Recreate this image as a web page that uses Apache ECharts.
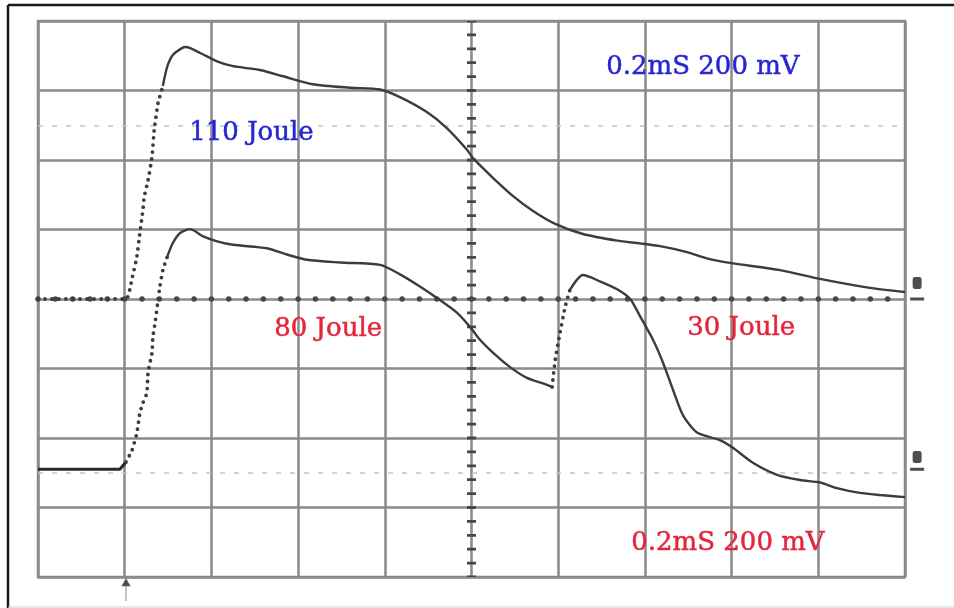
<!DOCTYPE html>
<html>
<head>
<meta charset="utf-8">
<title>Oscilloscope traces</title>
<script src="https://cdn.jsdelivr.net/npm/echarts@6/dist/echarts.min.js"></script>
<style>
  html, body { margin: 0; padding: 0; background: #ffffff; }
  #chart { width: 954px; height: 608px; }
</style>
</head>
<body>
<div id="chart"></div>
<script>
// Screen graticule: 0.2 ms/div horizontally, 200 mV/div vertically, centred at 0.
const timeRange = [-1.0, 1.0];      // ms
const voltRange = [-0.8, 0.8];      // V
const timePerDiv = 0.2;
const voltPerDiv = 0.2;

// Channel 1 (110 Joule discharge): [time ms, volts]
const ch1Rise = [
  [-1.0, 0], [-0.797, 0], [-0.783, 0.060], [-0.772, 0.121], [-0.765, 0.190],
  [-0.758, 0.256], [-0.755, 0.294], [-0.746, 0.342], [-0.737, 0.409],
  [-0.732, 0.486], [-0.723, 0.564], [-0.712, 0.613]
];
const ch1Decay = [
  [-0.712, 0.613], [-0.702, 0.668], [-0.689, 0.702], [-0.668, 0.722], [-0.659, 0.725],
  [-0.626, 0.708], [-0.587, 0.684], [-0.550, 0.670], [-0.488, 0.659],
  [-0.435, 0.641], [-0.366, 0.618], [-0.280, 0.608], [-0.211, 0.603],
  [-0.165, 0.581], [-0.103, 0.538], [-0.057, 0.492], [-0.010, 0.429],
  [0.003, 0.406], [0.050, 0.348], [0.096, 0.296], [0.142, 0.253],
  [0.193, 0.216], [0.257, 0.187], [0.336, 0.168], [0.389, 0.160],
  [0.435, 0.152], [0.497, 0.135], [0.543, 0.117], [0.596, 0.104],
  [0.712, 0.083], [0.804, 0.058], [0.919, 0.032], [1.0, 0.020]
];

// Channel 2 (80 Joule followed by 30 Joule discharge): [time ms, volts]
const ch2Base = [[-1.0, -0.490], [-0.811, -0.490], [-0.797, -0.469]];
const ch2Rise = [
  [-0.797, -0.469], [-0.783, -0.435], [-0.772, -0.386], [-0.765, -0.328],
  [-0.758, -0.299], [-0.749, -0.271], [-0.746, -0.210], [-0.737, -0.155],
  [-0.735, -0.109], [-0.730, -0.069], [-0.723, -0.003], [-0.719, 0.035],
  [-0.712, 0.083], [-0.702, 0.121]
];
const ch2First = [
  [-0.702, 0.121], [-0.689, 0.161], [-0.672, 0.190], [-0.649, 0.201],
  [-0.619, 0.180], [-0.587, 0.166], [-0.550, 0.156], [-0.472, 0.146],
  [-0.426, 0.128], [-0.380, 0.113], [-0.303, 0.105], [-0.211, 0.098],
  [-0.165, 0.071], [-0.119, 0.036], [-0.073, -0.003], [-0.033, -0.040],
  [-0.003, -0.081], [0.020, -0.118], [0.050, -0.155], [0.089, -0.196],
  [0.128, -0.227], [0.174, -0.247], [0.186, -0.253]
];
const ch2Jump = [
  [0.186, -0.253], [0.193, -0.176], [0.204, -0.098], [0.216, -0.023], [0.227, 0.026]
];
const ch2Second = [
  [0.227, 0.026], [0.243, 0.055], [0.257, 0.069], [0.296, 0.051],
  [0.336, 0.028], [0.366, 0.000], [0.389, -0.050], [0.419, -0.118],
  [0.442, -0.184], [0.465, -0.262], [0.488, -0.335], [0.520, -0.384],
  [0.573, -0.406], [0.603, -0.428], [0.650, -0.472], [0.705, -0.506],
  [0.758, -0.521], [0.804, -0.528], [0.843, -0.544], [0.896, -0.558],
  [0.942, -0.564], [1.0, -0.570]
];

// Reference half-division levels and channel / trigger markers
const refLevels = [0.5, -0.5];
const channelMarks = [[1.028, 0.046], [1.028, -0.455]];
const groundMarks = [[1.028, 0.0], [1.028, -0.49]];
const triggerMark = [[-0.797, -0.815]];

// Annotation texts
const labelScaleTop = '0.2mS 200 mV';
const labelScaleBottom = '0.2mS 200 mV';
const label110 = '110 Joule';
const label80 = '80 Joule';
const label30 = '30 Joule';

const TRACE = '#3c3c3c';
const GRID = '#8a8a8a';
const BLUE = '#2626d2';
const RED = '#e3263a';
const FONT = '26px "DejaVu Serif", "Liberation Serif", serif';

const chart = echarts.init(document.getElementById('chart'), null, { renderer: 'canvas' });

function solid(name, data) {
  return {
    name, type: 'line', data, showSymbol: false, smooth: 0.25,
    lineStyle: { color: TRACE, width: 2.4 }, z: 5, silent: true
  };
}
function dotted(name, data) {
  return {
    name, type: 'line', data, showSymbol: false, smooth: 0.15,
    lineStyle: { color: TRACE, width: 3.8, type: [0, 7], cap: 'round' }, z: 5, silent: true
  };
}
function note(text, left, top, color) {
  return {
    type: 'text', left, top, z: 10, silent: true,
    style: { text, fill: color, font: FONT, stroke: color, lineWidth: 0.5 }
  };
}

const option = {
  animation: false,
  backgroundColor: '#ffffff',
  grid: {
    left: 38, top: 21, right: 49, bottom: 31,
    show: true, borderColor: GRID, borderWidth: 2.5, backgroundColor: 'transparent'
  },
  xAxis: {
    type: 'value', min: timeRange[0], max: timeRange[1], interval: timePerDiv,
    axisLabel: { show: false }, axisTick: { show: false },
    axisLine: {
      show: true, onZero: true,
      lineStyle: { color: '#474747', width: 5.5, type: [0, 17.34], cap: 'round' }
    },
    splitLine: { show: true, lineStyle: { color: GRID, width: 2.5 } }
  },
  yAxis: {
    type: 'value', min: voltRange[0], max: voltRange[1], interval: voltPerDiv,
    axisLabel: { show: false }, axisTick: { show: false },
    axisLine: {
      show: true, onZero: true,
      lineStyle: { color: '#474747', width: 9, type: [2.8, 11.1], dashOffset: 1.4, cap: 'butt' }
    },
    splitLine: { show: true, lineStyle: { color: GRID, width: 2.5 } }
  },
  graphic: [
    // instrument frame
    { type: 'line', shape: { x1: 8, y1: 5, x2: 954, y2: 5 }, style: { stroke: '#1a1a1a', lineWidth: 2.5 }, silent: true },
    { type: 'line', shape: { x1: 8, y1: 5, x2: 8, y2: 608 }, style: { stroke: '#1a1a1a', lineWidth: 2.5 }, silent: true },
    { type: 'line', shape: { x1: 8, y1: 607, x2: 954, y2: 607 }, style: { stroke: '#d0d0d0', lineWidth: 1 }, silent: true },
    // trigger marker stem
    { type: 'line', shape: { x1: 126, y1: 586, x2: 126, y2: 601 }, style: { stroke: '#b0b0b0', lineWidth: 1.5 }, silent: true },
    // annotations
    note(labelScaleTop, 606, 54, BLUE),
    note(label110, 189, 120, BLUE),
    note(label80, 274, 316, RED),
    note(label30, 687, 315, RED),
    note(labelScaleBottom, 631, 530, RED)
  ],
  series: [
    {
      name: 'ref', type: 'line', data: [], silent: true,
      markLine: {
        silent: true, symbol: 'none', label: { show: false },
        lineStyle: { color: '#c4c4c4', width: 1.5, type: [5, 9] },
        data: refLevels.map(v => ({ yAxis: v }))
      }
    },
    dotted('ch1-rise', ch1Rise),
    solid('ch1-decay', ch1Decay),
    { ...solid('ch2-base', ch2Base), smooth: false, lineStyle: { color: '#2a2a2a', width: 3 } },
    dotted('ch2-rise', ch2Rise),
    solid('ch2-first', ch2First),
    dotted('ch2-jump', ch2Jump),
    solid('ch2-second', ch2Second),
    {
      name: 'channel', type: 'scatter', data: channelMarks, clip: false, silent: true,
      symbol: 'roundRect', symbolSize: [9, 12], itemStyle: { color: '#222' }, z: 6
    },
    {
      name: 'ground', type: 'scatter', data: groundMarks, clip: false, silent: true,
      symbol: 'rect', symbolSize: [14, 3], itemStyle: { color: '#222' }, z: 6
    },
    {
      name: 'trigger', type: 'scatter', data: triggerMark, clip: false, silent: true,
      symbol: 'triangle', symbolSize: [9, 8], itemStyle: { color: '#222' }, z: 6
    }
  ]
};

chart.setOption(option);
</script>
</body>
</html>
